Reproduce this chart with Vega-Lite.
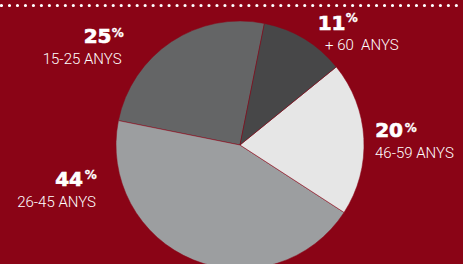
{
  "$schema": "https://vega.github.io/schema/vega-lite/v6.json",
  "width": 446,
  "height": 238,
  "autosize": {"type": "none"},
  "padding": {"left": 17, "top": 26, "right": 0, "bottom": 0},
  "background": "#8a0416",
  "config": {"view": {"stroke": null}},
  "data": {"values": [
    {"group": "15-25 ANYS", "pct": 25},
    {"group": "26-45 ANYS", "pct": 44},
    {"group": "46-59 ANYS", "pct": 20},
    {"group": "+ 60\u00a0 ANYS", "pct": 11}
  ]},
  "encoding": {
    "theta": {"field": "pct", "type": "quantitative", "stack": true, "scale": {"range": [0.8893, 7.1725]}},
    "order": {"field": "group", "sort": "descending"},
    "detail": {"field": "group"}
  },
  "layer": [
    {
      "mark": {"type": "arc", "radius": 124, "stroke": "#8a0416", "strokeWidth": 0.5},
      "encoding": {
        "color": {"field": "group", "type": "nominal", "legend": null,
          "scale": {"domain": ["15-25 ANYS", "26-45 ANYS", "46-59 ANYS", "+ 60\u00a0 ANYS"],
                    "range": ["#646566", "#9c9ea0", "#e6e6e6", "#474748"]}}
      }
    },
    {
      "data": {"values": [{}]},
      "mark": {"type": "rule", "stroke": "white", "strokeWidth": 3.2, "strokeCap": "round", "strokeDash": [0, 7.98], "strokeDashOffset": 6.48},
      "encoding": {"theta": null, "order": null, "detail": null, "x": {"value": -17}, "x2": {"value": 446}, "y": {"value": -20.5}}
    },
    {
      "mark": {"type": "text", "radius": 140, "align": "right", "baseline": "alphabetic", "dx": 33.1, "dy": 4.8, "font": "DejaVu Sans", "fontWeight": "bold", "fontSize": 20, "fill": "white", "stroke": "white", "strokeWidth": 0.7},
      "encoding": {"text": {"condition": {"test": "datum.group === '+ 60\u00a0 ANYS'", "field": "pct", "type": "quantitative"}, "value": ""}}
    },
    {
      "mark": {"type": "text", "radius": 140, "align": "left", "baseline": "alphabetic", "dx": 33.3, "dy": -3.2, "font": "DejaVu Sans", "fontWeight": "bold", "fontSize": 12, "fill": "white", "stroke": "white", "strokeWidth": 0.3},
      "encoding": {"text": {"condition": {"test": "datum.group === '+ 60\u00a0 ANYS'", "value": "%"}, "value": ""}}
    },
    {
      "mark": {"type": "text", "radius": 140, "align": "left", "baseline": "alphabetic", "dx": 12.6, "dy": 24.8, "font": "Roboto", "fontWeight": 300, "fontSize": 15, "fill": "white"},
      "encoding": {"text": {"condition": {"test": "datum.group === '+ 60\u00a0 ANYS'", "field": "group", "type": "nominal"}, "value": ""}}
    },
    {
      "mark": {"type": "text", "radius": 140, "align": "right", "baseline": "alphabetic", "dx": 23.2, "dy": -0.55, "font": "DejaVu Sans", "fontWeight": "bold", "fontSize": 20, "fill": "white", "stroke": "white", "strokeWidth": 0.7},
      "encoding": {"text": {"condition": {"test": "datum.group === '46-59 ANYS'", "field": "pct", "type": "quantitative"}, "value": ""}}
    },
    {
      "mark": {"type": "text", "radius": 140, "align": "left", "baseline": "alphabetic", "dx": 24.9, "dy": -6.05, "font": "DejaVu Sans", "fontWeight": "bold", "fontSize": 12, "fill": "white", "stroke": "white", "strokeWidth": 0.3},
      "encoding": {"text": {"condition": {"test": "datum.group === '46-59 ANYS'", "value": "%"}, "value": ""}}
    },
    {
      "mark": {"type": "text", "radius": 140, "align": "left", "baseline": "alphabetic", "dx": -4.8, "dy": 20.45, "font": "Roboto", "fontWeight": 300, "fontSize": 15, "fill": "white"},
      "encoding": {"text": {"condition": {"test": "datum.group === '46-59 ANYS'", "field": "group", "type": "nominal"}, "value": ""}}
    },
    {
      "mark": {"type": "text", "radius": 140, "align": "right", "baseline": "alphabetic", "dx": -104.2, "dy": -88.7, "font": "DejaVu Sans", "fontWeight": "bold", "fontSize": 20, "fill": "white", "stroke": "white", "strokeWidth": 0.7},
      "encoding": {"text": {"condition": {"test": "datum.group === '26-45 ANYS'", "field": "pct", "type": "quantitative"}, "value": ""}}
    },
    {
      "mark": {"type": "text", "radius": 140, "align": "left", "baseline": "alphabetic", "dx": -102.5, "dy": -95.2, "font": "DejaVu Sans", "fontWeight": "bold", "fontSize": 12, "fill": "white", "stroke": "white", "strokeWidth": 0.3},
      "encoding": {"text": {"condition": {"test": "datum.group === '26-45 ANYS'", "value": "%"}, "value": ""}}
    },
    {
      "mark": {"type": "text", "radius": 140, "align": "right", "baseline": "alphabetic", "dx": -91.2, "dy": -67.7, "font": "Roboto", "fontWeight": 300, "fontSize": 15, "fill": "white"},
      "encoding": {"text": {"condition": {"test": "datum.group === '26-45 ANYS'", "field": "group", "type": "nominal"}, "value": ""}}
    },
    {
      "mark": {"type": "text", "radius": 140, "align": "right", "baseline": "alphabetic", "dx": -50.9, "dy": 14.6, "font": "DejaVu Sans", "fontWeight": "bold", "fontSize": 20, "fill": "white", "stroke": "white", "strokeWidth": 0.7},
      "encoding": {"text": {"condition": {"test": "datum.group === '15-25 ANYS'", "field": "pct", "type": "quantitative"}, "value": ""}}
    },
    {
      "mark": {"type": "text", "radius": 140, "align": "left", "baseline": "alphabetic", "dx": -50.7, "dy": 8.6, "font": "DejaVu Sans", "fontWeight": "bold", "fontSize": 12, "fill": "white", "stroke": "white", "strokeWidth": 0.3},
      "encoding": {"text": {"condition": {"test": "datum.group === '15-25 ANYS'", "value": "%"}, "value": ""}}
    },
    {
      "mark": {"type": "text", "radius": 140, "align": "right", "baseline": "alphabetic", "dx": -40.9, "dy": 35.6, "font": "Roboto", "fontWeight": 300, "fontSize": 15, "fill": "white"},
      "encoding": {"text": {"condition": {"test": "datum.group === '15-25 ANYS'", "field": "group", "type": "nominal"}, "value": ""}}
    }
  ]
}
